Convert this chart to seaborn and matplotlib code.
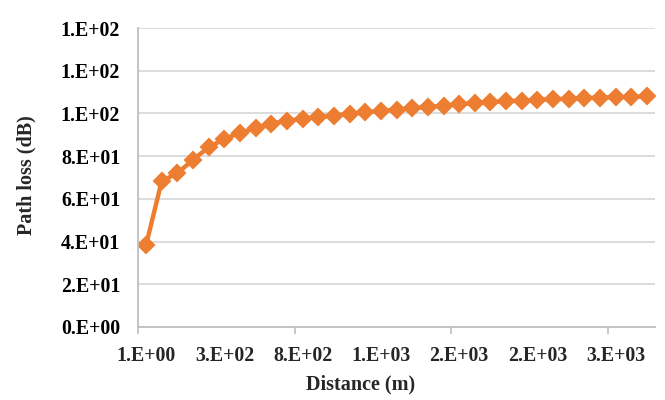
import numpy as np
import pandas as pd
import matplotlib
matplotlib.use("Agg")
import matplotlib.pyplot as plt
import seaborn as sns
from matplotlib.ticker import FixedLocator, FuncFormatter

# ---- data ----
distance_m = [1, 50, 100, 150, 200, 300, 400, 500, 600, 700, 800, 900, 1000,
              1100, 1200, 1300, 1400, 1500, 1600, 1700, 1800, 1900, 2000, 2100,
              2200, 2300, 2400, 2500, 2600, 2700, 2800, 2900, 3000]
path_loss_db = [38.5, 68.4, 72.0, 78.3, 84.2, 88.0, 91.0, 93.0, 95.2, 96.6,
                97.5, 98.3, 99.0, 99.8, 100.5, 101.2, 101.8, 102.4, 103.0,
                103.6, 104.3, 104.9, 105.3, 105.7, 106.0, 106.3, 106.6, 106.9,
                107.2, 107.4, 107.6, 107.8, 108.0]
y_ticks = [0, 20, 40, 60, 80, 100, 120, 140]
x_label = "Distance (m)"
y_label = "Path loss (dB)"


def excel_sci(v):
    return f"{v:.0E}".replace("E", ".E")


df = pd.DataFrame({"idx": np.arange(len(distance_m)), "loss": path_loss_db})

sns.set_style("white")
plt.rcParams["font.family"] = ["Liberation Serif", "DejaVu Serif"]
plt.rcParams["font.weight"] = "bold"

fig = plt.figure(figsize=(6.65, 4.0), dpi=100)
ax = fig.add_axes([138.3 / 665, 1 - 327 / 400, (654.8 - 138.3) / 665, (327 - 28) / 400])

orange = "#ED7D31"
sns.lineplot(data=df, x="idx", y="loss", ax=ax, color=orange, linewidth=3.2,
             marker="D", markersize=8, markeredgewidth=1.5,
             markeredgecolor=orange, markerfacecolor=orange)

n = len(distance_m)
ax.set_xlim(-0.5, n - 0.5)
ax.set_ylim(0, 140)

# y axis
ax.yaxis.set_major_locator(FixedLocator(y_ticks))
ax.yaxis.set_major_formatter(FuncFormatter(lambda v, p: excel_sci(v)))
ax.tick_params(axis="y", length=0, pad=13, labelsize=14.3, labelcolor="#000000")
ax.grid(axis="y", color="#D9D9D9", linewidth=1.3)
ax.set_axisbelow(True)

# x axis (category style)
label_pos = list(range(0, n, 5))
ax.xaxis.set_major_locator(FixedLocator(label_pos))
ax.set_xticklabels([excel_sci(distance_m[i]) for i in label_pos])
ax.xaxis.set_minor_locator(FixedLocator([-0.5, 9.5, 19.5, 29.5]))
ax.tick_params(axis="x", which="major", length=0, pad=14, labelsize=14.3)
ax.tick_params(axis="x", which="minor", length=5, width=1.2, color="#BFBFBF",
               direction="out", bottom=True)
for lbl in ax.get_xticklabels() + ax.get_yticklabels():
    lbl.set_fontweight("bold")

for side in ["top", "right"]:
    ax.spines[side].set_visible(False)
for side in ["left", "bottom"]:
    ax.spines[side].set_visible(True)
    ax.spines[side].set_color("#BFBFBF")
    ax.spines[side].set_linewidth(1.3)

ax.set_xlabel("")
ax.set_ylabel("")
fig.text(361 / 665, 1 - 384 / 400, x_label, ha="center", va="center",
         fontsize=14.5, fontweight="bold")
fig.text(26 / 665, 1 - 175 / 400, y_label, ha="center", va="center",
         rotation=90, fontsize=14.5, fontweight="bold")

fig.savefig("out.png", dpi=100)
